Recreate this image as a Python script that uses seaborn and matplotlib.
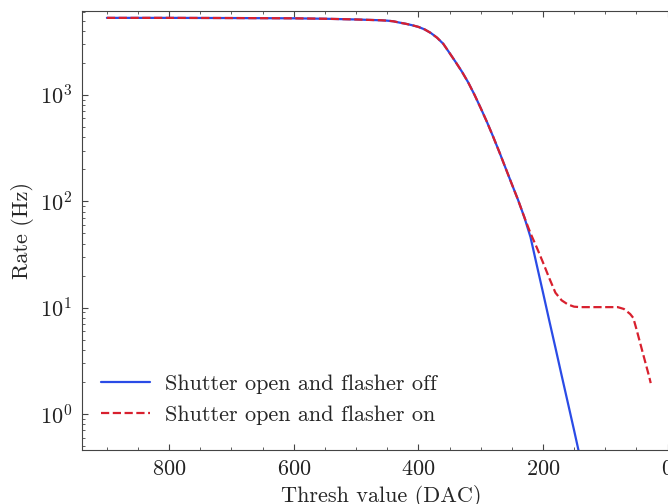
import matplotlib
matplotlib.use("Agg")
import matplotlib.pyplot as plt
from matplotlib.ticker import MultipleLocator, LogLocator, NullFormatter
import numpy as np
import pandas as pd
import seaborn as sns

# Threshold scan, shutter open, flasher off
thresh_off = [900, 800, 700, 600, 550, 500, 460, 450, 440, 430, 420, 410, 400,
              390, 380, 370, 360, 350, 340, 330, 320, 310, 300, 290, 280,
              270, 260, 250, 240, 230, 220, 210, 200, 190, 180, 170, 160,
              150, 140]
rate_off = [5300, 5300, 5280, 5250, 5200, 5120, 5030, 4990, 4920, 4780, 4660,
            4520, 4360, 4130, 3820, 3450, 3020, 2480, 2030, 1650, 1310, 1005,
            753, 558, 405, 290, 205, 145, 103, 71, 46, 25.2, 13.9, 7.6, 4.2,
            2.3, 1.27, 0.70, 0.38]

# Threshold scan, shutter open, flasher on
thresh_on = [900, 800, 700, 600, 550, 500, 460, 450, 440, 430, 420, 410, 400,
             390, 380, 370, 360, 350, 340, 330, 320, 310, 300, 290, 280,
             270, 260, 250, 240, 230, 220, 210, 200, 190, 180, 170, 160,
             150, 140, 120, 100, 90, 80, 70, 60, 55, 50, 40, 30, 27]
rate_on = [5300, 5300, 5280, 5250, 5200, 5120, 5030, 4990, 4920, 4780, 4660,
           4520, 4360, 4130, 3820, 3450, 3020, 2480, 2030, 1650, 1310, 1005,
           753, 558, 405, 290, 205, 145, 103, 71, 50, 36.8, 26.6, 19, 13.8,
           11.7, 10.7, 10.2, 10.1, 10.1, 10.1, 10.1, 10.1, 9.7, 8.7, 8.0,
           6.3, 3.8, 2.3, 1.95]

labels = ["Shutter open and flasher off", "Shutter open and flasher on"]

sns.set_style("ticks")
plt.rcParams.update({
    "font.family": ["cmr10", "DejaVu Serif"],
    "mathtext.fontset": "cm",
    "axes.formatter.use_mathtext": True,
    "font.size": 16,
    "axes.edgecolor": "#444444",
    "axes.linewidth": 0.8,
    "xtick.direction": "in",
    "ytick.direction": "in",
    "xtick.top": True,
    "ytick.right": True,
    "xtick.color": "#444444",
    "ytick.color": "#444444",
    "xtick.labelcolor": "#222222",
    "ytick.labelcolor": "#222222",
})

fig = plt.figure(figsize=(6.68, 5.04), dpi=100)
ax = fig.add_axes([82 / 668, 1 - 450 / 504, 598 / 668, 439 / 504])

df_off = pd.DataFrame({"thresh": thresh_off, "rate": rate_off})
df_on = pd.DataFrame({"thresh": thresh_on, "rate": rate_on})

sns.lineplot(data=df_off, x="thresh", y="rate", ax=ax, color="#2a4be6",
             lw=1.6, label=labels[0], sort=False)
sns.lineplot(data=df_on, x="thresh", y="rate", ax=ax, color="#d8202e",
             lw=1.6, ls="--", label=labels[1], sort=False)

ax.set_yscale("log")
ax.set_xlim(940, -20)
ax.set_ylim(0.458, 6150)

ax.xaxis.set_major_locator(MultipleLocator(200))
ax.xaxis.set_minor_locator(MultipleLocator(50))
ax.yaxis.set_major_locator(LogLocator(base=10, numticks=10))
ax.yaxis.set_minor_locator(LogLocator(base=10, subs=np.arange(2, 10), numticks=10))
ax.yaxis.set_minor_formatter(NullFormatter())

ax.tick_params(which="major", length=4, width=0.8, pad=7, labelsize=16)
ax.tick_params(which="minor", length=2, width=0.6)

ax.set_xlabel("Thresh value (DAC)", fontsize=16, labelpad=4)
ax.set_ylabel("Rate (Hz)", fontsize=16, labelpad=4)

ax.legend(loc="lower left", bbox_to_anchor=(-0.01, 0.0), frameon=False,
          fontsize=16, handlelength=2.2, handletextpad=0.7,
          labelspacing=0.53, borderaxespad=0.72)

fig.savefig("out.png", dpi=100)
